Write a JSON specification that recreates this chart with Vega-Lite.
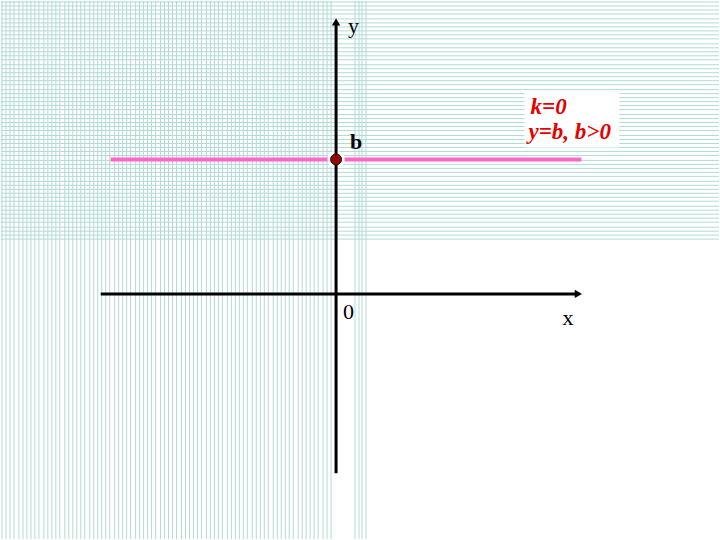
{
  "$schema": "https://vega.github.io/schema/vega-lite/v6.json",
  "width": 720,
  "height": 540,
  "autosize": {"type": "fit", "contains": "padding"},
  "padding": 0,
  "background": "white",
  "config": {"view": {"stroke": null}},
  "datasets": {
    "vlines": [
      {"px":1.5},{"px":5.5},{"px":9.5},{"px":13.5},{"px":18.5},{"px":22.5},{"px":26.5},{"px":30.5},{"px":34.5},{"px":38.5},
      {"px":43.5},{"px":47.5},{"px":51.5},{"px":55.5},{"px":59.5},{"px":64.5},{"px":68.5},{"px":72.5},{"px":76.5},{"px":80.5},
      {"px":84.5},{"px":89.5},{"px":93.5},{"px":97.5},{"px":101.5},{"px":105.5},{"px":109.5},{"px":114.5},{"px":118.5},{"px":122.5},
      {"px":126.5},{"px":130.5},{"px":135.5},{"px":139.5},{"px":143.5},{"px":147.5},{"px":151.5},{"px":155.5},{"px":160.5},{"px":164.5},
      {"px":168.5},{"px":172.5},{"px":176.5},{"px":181.5},{"px":185.5},{"px":189.5},{"px":193.5},{"px":197.5},{"px":201.5},{"px":206.5},
      {"px":210.5},{"px":214.5},{"px":218.5},{"px":222.5},{"px":227.5},{"px":231.5},{"px":235.5},{"px":239.5},{"px":243.5},{"px":247.5},
      {"px":252.5},{"px":256.5},{"px":260.5},{"px":264.5},{"px":268.5},{"px":273.5},{"px":277.5},{"px":281.5},{"px":285.5},{"px":289.5},
      {"px":293.5},{"px":298.5},{"px":302.5},{"px":306.5},{"px":310.5},{"px":314.5},{"px":318.5},{"px":323.5},{"px":327.5},{"px":331.5},
      {"px":355.5},{"px":359.5},{"px":362.5},{"px":366.5}
    ],
    "hlines": [
      {"py":1.5},{"py":5.5},{"py":9.5},{"py":13.5},{"py":18.5},{"py":22.5},{"py":26.5},{"py":30.5},{"py":34.5},{"py":38.5},
      {"py":43.5},{"py":47.5},{"py":51.5},{"py":55.5},{"py":59.5},{"py":64.5},{"py":68.5},{"py":72.5},{"py":76.5},{"py":80.5},
      {"py":84.5},{"py":89.5},{"py":93.5},{"py":97.5},{"py":101.5},{"py":105.5},{"py":109.5},{"py":114.5},{"py":118.5},{"py":122.5},
      {"py":126.5},{"py":130.5},{"py":135.5},{"py":139.5},{"py":143.5},{"py":147.5},{"py":151.5},{"py":155.5},{"py":160.5},{"py":164.5},
      {"py":168.5},{"py":172.5},{"py":176.5},{"py":181.5},{"py":185.5},{"py":189.5},{"py":193.5},{"py":197.5},{"py":201.5},{"py":206.5},
      {"py":210.5},{"py":214.5},{"py":218.5},{"py":222.5},{"py":227.5},{"py":231.5},{"py":235.5},{"py":239.5}
    ],
    "line": [{"x1": -226, "x2": 246, "b": 135}],
    "point": [{"x": 0, "b": 135}],
    "axes": [
      {"x1": -236, "x2": 240, "y1": 0, "y2": 0},
      {"x1": 0, "x2": 0, "y1": -180, "y2": 270}
    ],
    "arrowX": [{"x": 243, "y": 0}],
    "arrowY": [{"x": 0, "y": 273}],
    "box": [{"x1": 189, "x2": 284, "y1": 147, "y2": 202}],
    "labels": [
      {"text": "y", "x": 12, "y": 262},
      {"text": "0", "x": 7, "y": -25},
      {"text": "x", "x": 227, "y": -31}
    ],
    "blabel": [{"text": "b", "x": 14, "y": 145}],
    "note": [
      {"text": "k=0", "x": 195, "y": 181},
      {"text": "y=b, b>0", "x": 193, "y": 155}
    ]
  },
  "layer": [
    {
      "layer": [
        {
          "data": {"name": "vlines"},
          "mark": {"type": "rule", "stroke": "#b2dad6", "strokeWidth": 1},
          "encoding": {
            "x": {"field": "px", "type": "quantitative", "scale": {"domain": [0.5, 720.5], "nice": false, "zero": false}, "axis": null}
          }
        },
        {
          "data": {"name": "hlines"},
          "mark": {"type": "rule", "stroke": "#b2dad6", "strokeWidth": 1},
          "encoding": {
            "y": {"field": "py", "type": "quantitative", "scale": {"domain": [0.5, 540.5], "reverse": true, "nice": false, "zero": false}, "axis": null}
          }
        }
      ]
    },
    {
      "encoding": {
        "x": {"type": "quantitative", "scale": {"domain": [-336, 384], "nice": false, "zero": false}, "axis": null},
        "y": {"type": "quantitative", "scale": {"domain": [-246, 294], "nice": false, "zero": false}, "axis": null}
      },
      "layer": [
        {
          "data": {"name": "line"},
          "mark": {"type": "rule", "stroke": "#ff66cc", "strokeWidth": 4},
          "encoding": {
            "x": {"field": "x1", "type": "quantitative"},
            "x2": {"field": "x2"},
            "y": {"field": "b", "type": "quantitative"}
          }
        },
        {
          "data": {"name": "point"},
          "mark": {"type": "point", "shape": "circle", "filled": true, "fill": "white", "opacity": 1, "size": 300},
          "encoding": {
            "x": {"field": "x", "type": "quantitative"},
            "y": {"field": "b", "type": "quantitative"}
          }
        },
        {
          "data": {"name": "axes"},
          "mark": {"type": "rule", "stroke": "black", "strokeWidth": 3},
          "encoding": {
            "x": {"field": "x1", "type": "quantitative"},
            "x2": {"field": "x2"},
            "y": {"field": "y1", "type": "quantitative"},
            "y2": {"field": "y2"}
          }
        },
        {
          "data": {"name": "arrowX"},
          "mark": {"type": "point", "shape": "triangle-right", "filled": true, "fill": "black", "opacity": 1, "size": 70},
          "encoding": {
            "x": {"field": "x", "type": "quantitative"},
            "y": {"field": "y", "type": "quantitative"}
          }
        },
        {
          "data": {"name": "arrowY"},
          "mark": {"type": "point", "shape": "triangle-up", "filled": true, "fill": "black", "opacity": 1, "size": 70},
          "encoding": {
            "x": {"field": "x", "type": "quantitative"},
            "y": {"field": "y", "type": "quantitative"}
          }
        },
        {
          "data": {"name": "point"},
          "mark": {"type": "point", "shape": "circle", "filled": true, "fill": "#8b0a0a", "stroke": "#3a0000", "strokeWidth": 1, "opacity": 1, "size": 120},
          "encoding": {
            "x": {"field": "x", "type": "quantitative"},
            "y": {"field": "b", "type": "quantitative"}
          }
        },
        {
          "data": {"name": "box"},
          "mark": {"type": "rect", "fill": "white"},
          "encoding": {
            "x": {"field": "x1", "type": "quantitative"},
            "x2": {"field": "x2"},
            "y": {"field": "y1", "type": "quantitative"},
            "y2": {"field": "y2"}
          }
        },
        {
          "data": {"name": "labels"},
          "mark": {"type": "text", "font": "Liberation Serif", "fontSize": 22, "color": "black", "align": "left", "baseline": "alphabetic"},
          "encoding": {
            "x": {"field": "x", "type": "quantitative"},
            "y": {"field": "y", "type": "quantitative"},
            "text": {"field": "text"}
          }
        },
        {
          "data": {"name": "blabel"},
          "mark": {"type": "text", "font": "Liberation Serif", "fontSize": 22, "fontWeight": "bold", "color": "black", "align": "left", "baseline": "alphabetic"},
          "encoding": {
            "x": {"field": "x", "type": "quantitative"},
            "y": {"field": "y", "type": "quantitative"},
            "text": {"field": "text"}
          }
        },
        {
          "data": {"name": "note"},
          "mark": {"type": "text", "font": "Liberation Serif", "fontSize": 23, "fontWeight": "bold", "fontStyle": "italic", "color": "#e60000", "align": "left", "baseline": "alphabetic"},
          "encoding": {
            "x": {"field": "x", "type": "quantitative"},
            "y": {"field": "y", "type": "quantitative"},
            "text": {"field": "text"}
          }
        }
      ]
    }
  ],
  "resolve": {"scale": {"x": "independent", "y": "independent"}}
}
